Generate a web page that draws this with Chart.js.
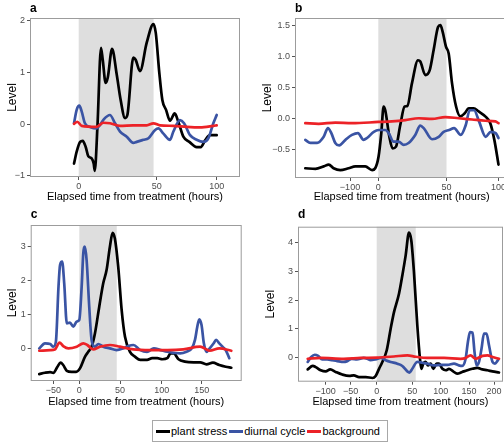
<!DOCTYPE html>
<html>
<head>
<meta charset="utf-8">
<script src="https://cdn.jsdelivr.net/npm/chart.js@4.4.1/dist/chart.umd.min.js"></script>
<style>
  body { margin: 0; width: 504px; height: 443px; overflow: hidden; position: relative; background: #fff;
         font-family: "Liberation Sans", Arial, sans-serif; }
  canvas { position: absolute; }
  #legend { position: absolute; left: 152px; top: 420px; width: 236px; height: 22px; box-sizing: border-box;
            border: 1px solid #a8a8a8; display: flex; align-items: center; padding-left: 3px; font-size: 11px; color: #000; }
  #legend .sw { width: 14px; height: 3px; margin-right: 1px; }
  #legend .tx { margin-right: 2px; }
</style>
</head>
<body>
<canvas id="pa" width="252" height="205" style="left:0;top:0"></canvas>
<canvas id="pb" width="262" height="205" style="left:252px;top:0"></canvas>
<canvas id="pc" width="252" height="205" style="left:0;top:205px"></canvas>
<canvas id="pd" width="252" height="205" style="left:252px;top:205px"></canvas>
<div id="legend">
  <span class="sw" style="background:#000"></span><span class="tx">plant stress</span>
  <span class="sw" style="background:#3a54a4"></span><span class="tx">diurnal cycle</span>
  <span class="sw" style="background:#ec2227"></span><span class="tx">background</span>
</div>
<script>
// [hours, level]
const aStress = [[-3,-0.76],[-1.3,-0.53],[0.9,-0.34],[2.6,-0.32],[4.5,-0.44],[6.2,-0.62],[8.3,-0.66],[9.6,-0.76],[10.3,-0.9],[12,-0.05],[14.3,1.48],[15.4,1.25],[17.3,0.8],[18.6,0.9],[21.4,1.46],[24.4,0.96],[26.9,0.47],[29.7,0.12],[31.2,0.18],[35,1.29],[36.5,1.25],[39.3,1.03],[43.6,1.58],[47.9,1.94],[49.4,1.77],[52.2,0.99],[54.7,0.47],[57.8,0.28],[61.1,0.07],[65,0.21],[68,0.05],[72.2,-0.24],[77.2,-0.34],[83.3,-0.44],[86.7,-0.44],[90.3,-0.31],[94.4,-0.21],[100,-0.21]];
const aDiurnal = [[-3,0.02],[-1.3,0.28],[0.4,0.36],[1.9,0.25],[4,0.02],[7.3,-0.05],[11.5,-0.08],[13.7,-0.01],[16.2,0.1],[20,0.18],[23.3,0.02],[26.5,-0.14],[30.8,-0.24],[35,-0.36],[37.2,-0.34],[41.5,-0.3],[44.7,-0.27],[49,-0.11],[51.4,-0.08],[55.6,-0.18],[61.1,-0.3],[63.9,-0.14],[69.4,0.08],[72.8,0.02],[77.8,-0.21],[83.3,-0.3],[88.9,-0.34],[93,-0.27],[97.2,0.02],[100,0.18]];
const aBackground = [[-3,0.01],[-0.9,0.05],[1.9,-0.03],[11.5,-0.05],[15.8,0.03],[20.1,0.02],[26.5,-0.03],[35,-0.02],[43.6,-0.02],[47.9,0.02],[52.8,-0.02],[63.9,-0.03],[75,-0.05],[86.1,-0.06],[97.2,-0.03],[100,-0.02]];

const bStress = [[-258,-0.81],[-222,-0.82],[-193,-0.78],[-175,-0.75],[-158,-0.81],[-134,-0.84],[-105,-0.81],[-81,-0.78],[-46,-0.78],[-22,-0.84],[-11,-0.81],[0.2,-0.62],[2.2,-0.24],[3.9,0.19],[5.1,0.13],[8.1,-0.3],[10.5,-0.49],[13,-0.46],[16.1,-0.11],[19.3,0.19],[21.3,0.2],[24.7,0.57],[29.1,0.94],[30.8,0.92],[34.5,0.7],[37.7,0.78],[40.6,1.11],[43.8,1.48],[45.5,1.51],[47.2,1.4],[49.6,1.16],[52.1,1.05],[55.3,0.57],[59.2,0.19],[63.3,0.03],[67.5,0.08],[71.3,0.16],[76.1,0.16],[80.9,0.11],[87.3,0.03],[92.1,-0.08],[96,-0.35],[100,-0.75]];
const bDiurnal = [[-258,-0.35],[-240,-0.4],[-216,-0.4],[-193,-0.3],[-178,-0.16],[-166,-0.24],[-152,-0.4],[-138,-0.44],[-116,-0.35],[-93,-0.27],[-72,-0.24],[-52,-0.35],[-40,-0.32],[-16,-0.22],[0.2,-0.19],[5.1,-0.19],[7.6,-0.24],[11.2,-0.38],[14.9,-0.38],[18.6,-0.43],[22.2,-0.4],[27.1,-0.27],[30.8,-0.12],[33.3,-0.16],[39.4,-0.34],[44.3,-0.3],[47.9,-0.22],[52.5,-0.19],[57.3,-0.16],[63.7,-0.27],[68.5,-0.11],[72.3,0.13],[76.5,0.13],[81.3,-0.05],[87.7,-0.3],[92.5,-0.22],[97.3,-0.24],[100,-0.32]];
const bBackground = [[-258,-0.08],[-211,-0.09],[-152,-0.07],[-93,-0.08],[0,-0.06],[10,-0.05],[19.8,-0.03],[29.6,0],[39.4,-0.01],[49.1,0.02],[61.8,0],[74.6,-0.02],[87.4,-0.04],[97,-0.05],[100,-0.08]];

const cStress = [[-77,-0.76],[-66,-0.72],[-56,-0.7],[-50,-0.72],[-42,-0.54],[-36,-0.42],[-31,-0.49],[-24,-0.66],[-15,-0.69],[-6,-0.69],[0.8,-0.59],[6.9,-0.25],[11,-0.1],[15.1,0.05],[19.2,0.44],[24.5,1.23],[29.4,1.92],[33.5,2.31],[37.6,3.0],[40.9,3.41],[43.7,3.24],[47.8,2.41],[52,1.13],[56,0.34],[62,-0.1],[68.2,-0.25],[74.3,-0.34],[82.4,-0.34],[88.6,-0.29],[94.7,-0.29],[100.8,-0.32],[107,-0.29],[111,-0.15],[115,-0.15],[121,-0.32],[129,-0.39],[140,-0.41],[148,-0.41],[156,-0.47],[164,-0.42],[172,-0.49],[180,-0.54],[187,-0.57]];
const cDiurnal = [[-77,0],[-66,0.15],[-56,0.13],[-50,0.05],[-45,0.2],[-40,1.82],[-37,2.46],[-33,2.56],[-29,1.92],[-24,0.74],[-18,0.76],[-11.5,0.64],[-5,0.79],[0,0.84],[2.9,1.82],[4.9,2.8],[6.9,3.0],[9,2.6],[12.2,1.23],[15.1,0.25],[19.2,0.05],[23.3,0.13],[29.4,0.05],[37.6,0],[45.7,-0.05],[53.9,0],[60,0.07],[66.1,0.1],[74.3,-0.05],[82.4,-0.1],[90.6,0],[98.8,-0.05],[107,-0.1],[115,-0.13],[123,-0.15],[131,-0.1],[137.6,0],[141.6,0.25],[144.5,0.64],[147,0.86],[149.8,0.69],[152.7,0.15],[156,-0.1],[160,0],[165,0.15],[168,0.25],[172,0.15],[176,0.05],[180,-0.05],[184.5,-0.29]];
const cBackground = [[-77,-0.07],[-56,-0.05],[-47,-0.03],[-38,0.17],[-31,0.07],[-21,0],[-5,0.05],[4.9,0.15],[9.8,0.1],[17,-0.03],[25.3,0.05],[37.6,0.1],[49.8,0.05],[66,-0.03],[86.5,-0.05],[107,-0.05],[127,-0.03],[148,0.05],[160,-0.07],[172,0],[187,-0.07]];

const dStress = [[-136,-0.42],[-126,-0.3],[-120,-0.34],[-110,-0.45],[-100,-0.49],[-91,-0.42],[-80,-0.51],[-67,-0.6],[-53,-0.65],[-44,-0.63],[-34,-0.69],[-21,-0.69],[-8,-0.72],[-2,-0.65],[3.3,-0.4],[7.9,-0.16],[14,0.24],[19.6,1.0],[24.3,1.58],[31.3,2.22],[36,2.86],[40.7,3.56],[45.3,4.35],[48.6,4.08],[52.9,2.98],[58.8,1.12],[63.5,-0.05],[65.9,-0.4],[69.4,-0.22],[73.5,-0.16],[77.6,-0.28],[82.4,-0.22],[87.1,-0.4],[92.9,-0.22],[97,-0.22],[103,-0.4],[109,-0.45],[114.7,-0.4],[122,-0.49],[129,-0.57],[138,-0.51],[147,-0.45],[156.7,-0.4],[166.7,-0.37],[176.7,-0.42],[186.7,-0.45],[196.7,-0.49],[210,-0.53]];
const dDiurnal = [[-136,-0.16],[-129,0.01],[-122,0.09],[-115,0.05],[-107,-0.07],[-97,-0.07],[-87,-0.1],[-77,-0.13],[-64,-0.16],[-58,-0.14],[-48,-0.05],[-38,-0.07],[-25,-0.02],[-18,-0.05],[-12,-0.1],[-2,-0.07],[5.6,-0.02],[12.6,-0.1],[19.6,-0.16],[29,-0.22],[36,-0.3],[43,-0.49],[46,-0.53],[50,-0.4],[58.8,-0.16],[67.6,-0.19],[76.5,-0.22],[88,-0.28],[100,-0.26],[112,-0.26],[123.5,-0.22],[132,-0.28],[138,-0.3],[144,-0.05],[148,0.53],[152,0.88],[157,0.86],[161,0.19],[165,-0.28],[170,-0.16],[175,0.3],[180,0.83],[185,0.83],[190,0.42],[197,-0.16],[202,-0.22],[208,-0.1]];
const dBackground = [[-136,-0.05],[-110,-0.02],[-64,-0.05],[-31,-0.02],[1,-0.01],[24,0.03],[43,0.07],[56,0.02],[76,-0.02],[106,-0.02],[135,-0.05],[144,-0.02],[153,0.07],[163,-0.05],[177,0.05],[187,0.07],[197,0.01],[210,-0.05]];

// tick labels
const aXTicks = [0, 50, 100], aYTicks = [-1, 0, 1, 2];
const bXTicks = [-100, 0, 50, 100], bYTicks = [-0.5, 0, 0.5, 1, 1.5];
const cXTicks = [-50, 0, 50, 100, 150], cYTicks = [0, 1, 2, 3];
const dXTicks = [-100, -50, 0, 50, 100, 150, 200], dYTicks = [0, 1, 2, 3, 4];

const BLUE = '#3a54a4', RED = '#ec2227';
const FONT = '"Liberation Sans", Arial, sans-serif';

// the time axis is stretched differently before, during and after treatment;
// knots are [hour, px from the left of the plot box]
function warp(knots, h) {
  let i = 0;
  while (i < knots.length - 2 && h > knots[i + 1][0]) i++;
  const [h0, u0] = knots[i], [h1, u1] = knots[i + 1];
  return u0 + (h - h0) * (u1 - u0) / (h1 - h0);
}

function fmt(v, dec) {
  const s = Math.abs(v).toFixed(dec);
  return v < 0 ? '\u2212' + s : s;
}

const panels = [
  { el: 'pa', letter: 'a', letterY: 9, area: { l: 30, t: 18, r: 240, b: 177 }, knots: [[0, 48.7], [50, 126.7], [100, 186.7]],
    shade: [0, 48], y: [-1.02, 2.058], xTicks: aXTicks, yTicks: aYTicks, dec: 0, levelPad: 5,
    series: [aBackground, aDiurnal, aStress] },
  { el: 'pb', letter: 'b', letterY: 9, area: { l: 43, t: 18, r: 256.5, b: 178 }, knots: [[-100, 55], [0, 83.3], [50, 151.5], [100, 203.5]],
    shade: [0, 50], y: [-0.968, 1.625], xTicks: bXTicks, yTicks: bYTicks, dec: 1, levelPad: 8,
    series: [bBackground, bDiurnal, bStress] },
  { el: 'pc', letter: 'c', letterY: 10, area: { l: 30.7, t: 20, r: 241.7, b: 176 }, knots: [[-50, 22.6], [0, 48.6], [50, 89.3], [100, 131], [150, 171]],
    shade: [0, 46], y: [-0.962, 3.64], xTicks: cXTicks, yTicks: cYTicks, dec: 0, levelPad: 5,
    series: [cBackground, cDiurnal, cStress] },
  { el: 'pd', letter: 'd', letterY: 10, area: { l: 46, t: 21.7, r: 251, b: 176.7 }, knots: [[-100, 27.7], [-50, 52.7], [0, 78.7], [50, 114.3], [100, 142.7], [150, 171], [200, 196]],
    shade: [0, 56], y: [-0.85, 4.56], xTicks: dXTicks, yTicks: dYTicks, dec: 0, levelPad: 11,
    series: [dBackground, dDiurnal, dStress] }
];

const panelDecor = {
  id: 'panelDecor',
  beforeDatasetsDraw(chart, args, o) {
    const { ctx, chartArea: a, scales: { x } } = chart;
    const x0 = x.getPixelForValue(warp(o.knots, o.shade[0]));
    const x1 = x.getPixelForValue(warp(o.knots, o.shade[1]));
    ctx.save();
    ctx.fillStyle = '#dedede';
    ctx.fillRect(x0, a.top, x1 - x0, a.bottom - a.top);
    ctx.restore();
  },
  afterDraw(chart, args, o) {
    const { ctx, chartArea: a } = chart;
    ctx.save();
    ctx.strokeStyle = '#9c9c9c';
    ctx.lineWidth = 1;
    ctx.strokeRect(a.left + 0.5, a.top + 0.5, a.right - a.left - 1, a.bottom - a.top - 1);
    ctx.fillStyle = '#000';
    ctx.font = 'bold 12px ' + FONT;
    ctx.textBaseline = 'middle';
    ctx.fillText(o.letter, a.left, o.letterY);
    ctx.restore();
  }
};

const colours = [RED, BLUE, '#000'];

panels.forEach(P => {
  const canvas = document.getElementById(P.el);
  new Chart(canvas, {
    type: 'line',
    data: {
      datasets: P.series.map((s, i) => ({
        data: s.map(([h, v]) => ({ x: warp(P.knots, h), y: v })),
        borderColor: colours[i],
        borderWidth: 2.7,
        pointRadius: 0,
        cubicInterpolationMode: 'monotone',
        borderJoinStyle: 'round',
        borderCapStyle: 'round'
      }))
    },
    options: {
      responsive: false,
      animation: false,
      events: [],
      layout: { padding: { top: P.area.t, right: canvas.width - P.area.r, left: 0, bottom: 0 } },
      plugins: {
        legend: { display: false },
        tooltip: { enabled: false },
        panelDecor: { knots: P.knots, shade: P.shade, letter: P.letter, letterY: P.letterY }
      },
      scales: {
        x: {
          type: 'linear',
          min: 0,
          max: P.area.r - P.area.l,
          bounds: 'data',
          afterBuildTicks: s => { s.ticks = P.xTicks.map(h => ({ value: warp(P.knots, h) })); },
          afterFit: s => { s.height = canvas.height - P.area.b; },
          grid: { drawOnChartArea: false, tickLength: 3, color: '#555' },
          border: { display: false },
          ticks: { autoSkip: false, maxRotation: 0, padding: 1, color: '#4d4d4d',
                   font: { family: FONT, size: 9 }, callback: (v, i) => fmt(P.xTicks[i], 0) },
          title: { display: true, text: 'Elapsed time from treatment (hours)', color: '#000',
                   font: { family: FONT, size: 11 }, padding: { top: 0, bottom: 1 } }
        },
        y: {
          min: P.y[0],
          max: P.y[1],
          bounds: 'data',
          afterBuildTicks: s => { s.ticks = P.yTicks.map(v => ({ value: v })); },
          afterFit: s => { s.width = P.area.l; },
          grid: { drawOnChartArea: false, tickLength: 3, color: '#555' },
          border: { display: false },
          ticks: { padding: 2, color: '#4d4d4d', font: { family: FONT, size: 9 },
                   callback: (v, i) => fmt(P.yTicks[i], P.dec) },
          title: { display: true, text: 'Level', color: '#000',
                   font: { family: FONT, size: 12 }, padding: { top: P.levelPad, bottom: 0 } }
        }
      }
    },
    plugins: [panelDecor]
  });
});
</script>
</body>
</html>
